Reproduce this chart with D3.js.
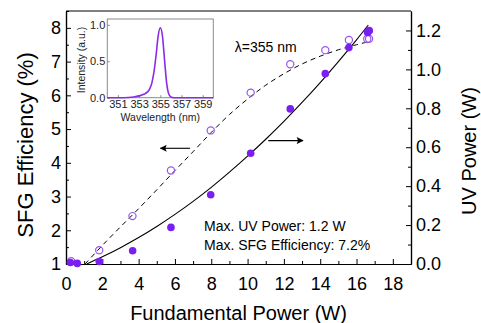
<!DOCTYPE html>
<html>
<head>
<meta charset="utf-8">
<script src="https://cdn.jsdelivr.net/npm/d3@7"></script>
<style>
  html, body { margin: 0; padding: 0; background: #fff; }
  svg { display: block; font-family: "Liberation Sans", Arial, sans-serif; }
</style>
</head>
<body>
<script>
// measured points
const fundPower = [0.24, 0.62, 1.83, 3.67, 5.78, 7.97, 10.17, 12.35, 14.28, 15.58, 16.61, 16.70];
const uvPower = [0.008, 0.003, 0.013, 0.068, 0.188, 0.356, 0.569, 0.797, 0.978, 1.112, 1.190, 1.199];
const fundPowerEff = [0.28, 1.83, 3.66, 5.78, 7.97, 10.17, 12.35, 14.28, 15.58, 16.59, 16.69];
const sfgEff = [1.08, 1.41, 2.42, 3.77, 4.96, 6.08, 6.92, 7.34, 7.64, 7.67, 7.68];

// fitted curves
const uvFitX = [1.14, 2, 3, 4, 5, 6, 7, 8, 9, 10, 11, 12, 13, 14, 15, 16, 16.65];
const uvFitY = [0, 0.037, 0.084, 0.136, 0.193, 0.255, 0.322, 0.394, 0.472, 0.554, 0.641, 0.733, 0.83, 0.932, 1.04, 1.152, 1.228];
const effFitX = [1.05, 2, 3, 4, 5, 6, 7, 8, 9, 10, 11, 12, 13, 14, 15, 16, 16.65];
const effFitY = [1, 1.55, 2.1, 2.64, 3.2, 3.77, 4.33, 4.9, 5.43, 5.89, 6.3, 6.64, 6.93, 7.16, 7.35, 7.5, 7.59];

// inset spectrum
const wavelength = [350, 351, 352, 352.5, 353, 353.5, 353.8, 354, 354.2, 354.4, 354.6, 354.8, 355, 355.2, 355.4, 355.6, 355.8, 356, 356.3, 357, 360];
const intensity = [0, 0, 0.003, 0.01, 0.025, 0.05, 0.08, 0.12, 0.2, 0.35, 0.58, 0.85, 0.96, 0.85, 0.52, 0.2, 0.05, 0.01, 0, 0, 0];

// ticks
const xTicks = [0, 2, 4, 6, 8, 10, 12, 14, 16, 18];
const xMinor = [1, 3, 5, 7, 9, 11, 13, 15, 17];
const effTicks = [1, 2, 3, 4, 5, 6, 7, 8];
const effMinor = [1.5, 2.5, 3.5, 4.5, 5.5, 6.5, 7.5, 8.5];
const uvTicks = [0, 0.2, 0.4, 0.6, 0.8, 1.0, 1.2];
const uvMinor = [0.1, 0.3, 0.5, 0.7, 0.9, 1.1];
const wlTicks = [351, 353, 355, 357, 359];
const intTicks = [0, 0.5, 1.0];

// arrows: [x from, x to, y]
const effArrow = [6.83, 5.2, 4.43];
const uvArrow = [11.14, 13.05, 0.634];

const W = 481, H = 323;
const margin = {top: 11, right: 70, bottom: 59, left: 66};
const purple = "#7a1ff0";
const lightPurple = "#9a55ee";

const svg = d3.select("body").append("svg")
  .attr("width", W).attr("height", H);

const x = d3.scaleLinear().domain([0, 19]).range([margin.left, W - margin.right]);
const yL = d3.scaleLinear().domain([1, 8.5]).range([H - margin.bottom, margin.top]);
const yR = d3.scaleLinear().domain([0, 1.3]).range([H - margin.bottom, margin.top]);

function styleAxis(g, fs) {
  g.select(".domain").attr("stroke", "#000").attr("stroke-width", 1.2);
  g.selectAll(".tick line").attr("stroke", "#000").attr("stroke-width", 1);
  g.selectAll(".tick text").attr("fill", "#000").style("font-size", fs + "px").style("font-family", "'Liberation Sans', Arial, sans-serif");
}

const bottom = H - margin.bottom;
const right = W - margin.right;

// top border
svg.append("line")
  .attr("x1", margin.left).attr("x2", right)
  .attr("y1", margin.top).attr("y2", margin.top)
  .attr("stroke", "#000").attr("stroke-width", 1.2);

// bottom axis
svg.append("g").attr("transform", `translate(0,${bottom})`)
  .call(d3.axisBottom(x).tickValues(xMinor).tickSize(-3).tickSizeOuter(0).tickFormat(""))
  .call(g => styleAxis(g, 18));
svg.append("g").attr("transform", `translate(0,${bottom})`)
  .call(d3.axisBottom(x).tickValues(xTicks).tickSize(-5).tickSizeOuter(0).tickPadding(13))
  .call(g => styleAxis(g, 18));

// left axis
svg.append("g").attr("transform", `translate(${margin.left},0)`)
  .call(d3.axisLeft(yL).tickValues(effMinor).tickSize(-3).tickSizeOuter(0).tickFormat(""))
  .call(g => styleAxis(g, 18));
svg.append("g").attr("transform", `translate(${margin.left},0)`)
  .call(d3.axisLeft(yL).tickValues(effTicks).tickSize(-5).tickSizeOuter(0).tickPadding(5))
  .call(g => styleAxis(g, 18));

// right axis
svg.append("g").attr("transform", `translate(${right},0)`)
  .call(d3.axisRight(yR).tickValues(uvMinor).tickSize(-3).tickSizeOuter(0).tickFormat(""))
  .call(g => styleAxis(g, 18));
svg.append("g").attr("transform", `translate(${right},0)`)
  .call(d3.axisRight(yR).tickValues(uvTicks).tickSize(-5).tickSizeOuter(0).tickPadding(5).tickFormat(d3.format(".1f")))
  .call(g => styleAxis(g, 18));

// axis titles
svg.append("text")
  .attr("x", (margin.left + right) / 2).attr("y", 320)
  .attr("text-anchor", "middle").style("font-size", "20px")
  .text("Fundamental Power (W)");
svg.append("text")
  .attr("transform", `translate(33,145) rotate(-90)`)
  .attr("text-anchor", "middle").style("font-size", "22px")
  .text("SFG Efficiency (%)");
svg.append("text")
  .attr("transform", `translate(476,151) rotate(-90)`)
  .attr("text-anchor", "middle").style("font-size", "20px")
  .text("UV Power (W)");

// fitted curves
const uvLine = d3.line().x(d => x(d[0])).y(d => yR(d[1])).curve(d3.curveCatmullRom);
const effLine = d3.line().x(d => x(d[0])).y(d => yL(d[1])).curve(d3.curveCatmullRom);

svg.append("path")
  .datum(d3.zip(effFitX, effFitY))
  .attr("d", effLine)
  .attr("fill", "none").attr("stroke", "#000").attr("stroke-width", 1)
  .attr("stroke-dasharray", "5,4");
svg.append("path")
  .datum(d3.zip(uvFitX, uvFitY))
  .attr("d", uvLine)
  .attr("fill", "none").attr("stroke", "#000").attr("stroke-width", 1.1);

// points
svg.append("g").selectAll("circle")
  .data(d3.zip(fundPowerEff, sfgEff))
  .join("circle")
  .attr("cx", d => x(d[0])).attr("cy", d => yL(d[1])).attr("r", 3.6)
  .attr("fill", "none").attr("stroke", lightPurple).attr("stroke-width", 1.2);
svg.append("g").selectAll("circle")
  .data(d3.zip(fundPower, uvPower))
  .join("circle")
  .attr("cx", d => x(d[0])).attr("cy", d => yR(d[1])).attr("r", 3.8)
  .attr("fill", purple);

// arrows
svg.append("defs").append("marker")
  .attr("id", "head")
  .attr("viewBox", "0 0 10 10")
  .attr("refX", 9).attr("refY", 5)
  .attr("markerUnits", "userSpaceOnUse")
  .attr("markerWidth", 9).attr("markerHeight", 7)
  .attr("orient", "auto")
  .append("path")
  .attr("d", "M0,0 L10,5 L0,10 L2,5 Z")
  .attr("fill", "#000");

svg.append("line")
  .attr("x1", x(effArrow[0])).attr("x2", x(effArrow[1]))
  .attr("y1", yL(effArrow[2])).attr("y2", yL(effArrow[2]))
  .attr("stroke", "#000").attr("stroke-width", 1.1)
  .attr("marker-end", "url(#head)");
svg.append("line")
  .attr("x1", x(uvArrow[0])).attr("x2", x(uvArrow[1]))
  .attr("y1", yR(uvArrow[2])).attr("y2", yR(uvArrow[2]))
  .attr("stroke", "#000").attr("stroke-width", 1.1)
  .attr("marker-end", "url(#head)");

// annotations
svg.append("text")
  .attr("x", x(9.3)).attr("y", yL(7.28))
  .style("font-size", "14px")
  .text("λ=355 nm");
svg.append("text")
  .attr("x", x(7.6)).attr("y", yR(0.169))
  .style("font-size", "14px")
  .text("Max. UV Power: 1.2 W");
svg.append("text")
  .attr("x", x(7.6)).attr("y", yR(0.071))
  .style("font-size", "14px")
  .text("Max. SFG Efficiency: 7.2%");

// inset
const inset = {left: 107.3, right: 213.3, top: 19, bottom: 97.7};
const ix = d3.scaleLinear().domain([350, 360]).range([inset.left, inset.right]);
const iy = d3.scaleLinear().domain([0, 1.08]).range([inset.bottom, inset.top]);
const gi = svg.append("g");

gi.append("rect")
  .attr("x", inset.left).attr("y", inset.top)
  .attr("width", inset.right - inset.left).attr("height", inset.bottom - inset.top)
  .attr("fill", "#fff").attr("stroke", "#8a8a8a").attr("stroke-width", 1);

function styleInset(g) {
  g.select(".domain").remove();
  g.selectAll(".tick line").attr("stroke", "#8a8a8a");
  g.selectAll(".tick text").attr("fill", "#222").style("font-size", "11px")
    .style("font-family", "'Liberation Sans', Arial, sans-serif");
}

gi.append("g").attr("transform", `translate(0,${inset.bottom})`)
  .call(d3.axisBottom(ix).tickValues(wlTicks).tickSize(-2.5).tickPadding(3))
  .call(styleInset);
gi.append("g").attr("transform", `translate(${inset.left},0)`)
  .call(d3.axisLeft(iy).tickValues(intTicks).tickSize(-2.5).tickPadding(2).tickFormat(d3.format(".1f")))
  .call(styleInset);

gi.append("path")
  .datum(d3.zip(wavelength, intensity))
  .attr("d", d3.line().x(d => ix(d[0])).y(d => iy(d[1])).curve(d3.curveMonotoneX))
  .attr("fill", "none").attr("stroke", "#8a2be8").attr("stroke-width", 1.6);

gi.append("text")
  .attr("x", (inset.left + inset.right) / 2).attr("y", 121)
  .attr("text-anchor", "middle").style("font-size", "10.5px").attr("fill", "#222")
  .text("Wavelength (nm)");
gi.append("text")
  .attr("transform", `translate(85,60) rotate(-90)`)
  .attr("text-anchor", "middle").style("font-size", "10.5px").attr("fill", "#222")
  .text("Intensity (a.u.)");
</script>
</body>
</html>
